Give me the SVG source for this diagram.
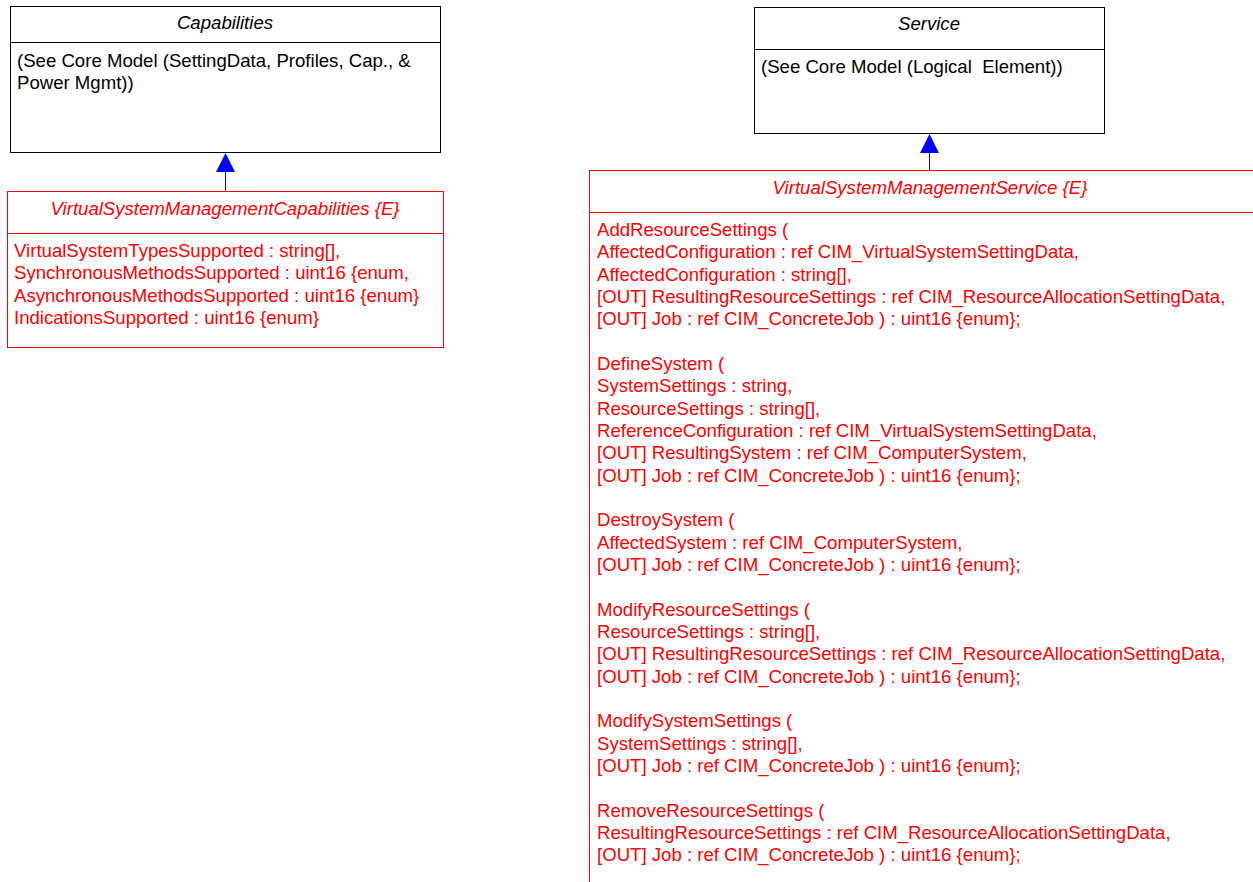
<svg xmlns="http://www.w3.org/2000/svg" width="1253" height="882" viewBox="0 0 1253 882">
<defs>
<style>
.box{fill:#fff;stroke:#000;stroke-width:1}
.rbox{fill:#fff;stroke:#f00;stroke-width:1}
.ttl{font-family:"Liberation Sans",Arial,sans-serif;font-size:18.6px;font-style:italic;text-anchor:middle;fill:#000}
.txt{font-family:"Liberation Sans",Arial,sans-serif;font-size:18.6px;fill:#000;white-space:pre}
.red{fill:#f00}
.conn{stroke:#00f;stroke-width:1;fill:none}
.head{fill:#00f;stroke:none}
</style>
</defs>
<rect width="1253" height="882" fill="#fff"/>
<g id="capabilities">
<rect class="box" x="10.5" y="6.5" width="430" height="146"/>
<line x1="10.5" y1="42.5" x2="440.5" y2="42.5" stroke="#000"/>
<text class="ttl" x="225" y="29">Capabilities</text>
<text class="txt" x="17" y="67">(See Core Model (SettingData, Profiles, Cap., &amp;</text>
<text class="txt" x="17" y="89">Power Mgmt))</text>
</g>
<g id="vsmc">
<rect class="rbox" x="7.5" y="191.5" width="436" height="156"/>
<line x1="7.5" y1="233.5" x2="443.5" y2="233.5" stroke="#f00"/>
<text class="ttl red" x="225" y="215">VirtualSystemManagementCapabilities {E}</text>
<text class="txt red" x="14" y="257">VirtualSystemTypesSupported : string[],</text>
<text class="txt red" x="14" y="279">SynchronousMethodsSupported : uint16 {enum,</text>
<text class="txt red" x="14" y="302">AsynchronousMethodsSupported : uint16 {enum}</text>
<text class="txt red" x="14" y="324">IndicationsSupported : uint16 {enum}</text>
</g>
<g id="service">
<rect class="box" x="754.5" y="7.5" width="350" height="126"/>
<line x1="754.5" y1="49.5" x2="1104.5" y2="49.5" stroke="#000"/>
<text class="ttl" x="929" y="30">Service</text>
<text class="txt" x="761" y="73" xml:space="preserve">(See Core Model (Logical  Element))</text>
</g>
<g id="vsms">
<rect class="rbox" x="589.5" y="170.5" width="690" height="740"/>
<line x1="589.5" y1="212.5" x2="1279.5" y2="212.5" stroke="#f00"/>
<text class="ttl red" x="930" y="194">VirtualSystemManagementService {E}</text>
<g class="txt red">
<text x="597" y="236">AddResourceSettings (</text>
<text x="597" y="258.3">AffectedConfiguration : ref CIM_VirtualSystemSettingData,</text>
<text x="597" y="280.7">AffectedConfiguration : string[],</text>
<text x="597" y="303">[OUT] ResultingResourceSettings : ref CIM_ResourceAllocationSettingData,</text>
<text x="597" y="325.3">[OUT] Job : ref CIM_ConcreteJob ) : uint16 {enum};</text>
<text x="597" y="370">DefineSystem (</text>
<text x="597" y="392.3">SystemSettings : string,</text>
<text x="597" y="414.7">ResourceSettings : string[],</text>
<text x="597" y="437">ReferenceConfiguration : ref CIM_VirtualSystemSettingData,</text>
<text x="597" y="459.3">[OUT] ResultingSystem : ref CIM_ComputerSystem,</text>
<text x="597" y="481.7">[OUT] Job : ref CIM_ConcreteJob ) : uint16 {enum};</text>
<text x="597" y="526.3">DestroySystem (</text>
<text x="597" y="548.7">AffectedSystem : ref CIM_ComputerSystem,</text>
<text x="597" y="571">[OUT] Job : ref CIM_ConcreteJob ) : uint16 {enum};</text>
<text x="597" y="615.7">ModifyResourceSettings (</text>
<text x="597" y="638">ResourceSettings : string[],</text>
<text x="597" y="660.3">[OUT] ResultingResourceSettings : ref CIM_ResourceAllocationSettingData,</text>
<text x="597" y="682.7">[OUT] Job : ref CIM_ConcreteJob ) : uint16 {enum};</text>
<text x="597" y="727.3">ModifySystemSettings (</text>
<text x="597" y="749.7">SystemSettings : string[],</text>
<text x="597" y="772">[OUT] Job : ref CIM_ConcreteJob ) : uint16 {enum};</text>
<text x="597" y="816.7">RemoveResourceSettings (</text>
<text x="597" y="839">ResultingResourceSettings : ref CIM_ResourceAllocationSettingData,</text>
<text x="597" y="861.3">[OUT] Job : ref CIM_ConcreteJob ) : uint16 {enum};</text>
</g>
</g>
<g id="connectors">
<line class="conn" x1="225.5" y1="172" x2="225.5" y2="191"/>
<polygon class="head" points="225.5,153 216,172 235,172"/>
<line class="conn" x1="929.5" y1="153" x2="929.5" y2="170"/>
<polygon class="head" points="929.5,134 920,153 939,153"/>
</g>
</svg>
